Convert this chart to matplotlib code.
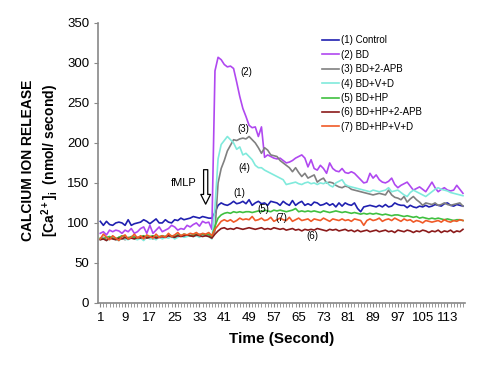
import matplotlib
matplotlib.use("Agg")
import matplotlib.pyplot as plt
import numpy as np

plt.rcParams['font.family'] = ['Liberation Sans', 'DejaVu Sans']
plt.rcParams['mathtext.fontset'] = 'custom'
plt.rcParams['mathtext.rm'] = 'Liberation Sans:bold'
plt.rcParams['mathtext.bf'] = 'Liberation Sans:bold'
plt.rcParams['mathtext.it'] = 'Liberation Sans:bold'
plt.rcParams['mathtext.default'] = 'bf'

# time points (seconds) 1..118
seconds = list(range(1, 119))

control = [102, 97, 102, 98, 97, 100, 101, 100, 97, 104,
           97, 99, 100, 101, 104, 102, 99, 102, 105, 100,
           100, 104, 101, 100, 104, 103, 106, 104, 105, 106,
           108, 107, 106, 108, 107, 106, 106,
           113,
           122, 125, 123, 122, 124, 127, 124, 125, 127, 124,
           129, 122, 125, 127, 124, 125, 122, 127, 126, 125,
           122, 127, 124, 122, 128, 122, 125, 127, 122, 124,
           122, 126, 125, 122, 123, 125, 122, 124, 120, 125,
           121, 125, 123, 122, 125, 118, 114, 120, 121, 122,
           121, 120, 122, 120, 123, 120, 121, 125, 123, 122,
           122, 119, 122, 120, 119, 121, 120, 122, 120, 121,
           123, 122, 121, 124, 125, 122, 121, 123, 122, 121]

bd = [87, 89, 85, 91, 89, 91, 90, 87, 91, 89,
      93, 87, 89, 93, 95, 87, 97, 87, 91, 95,
      89, 91, 93, 97, 95, 91, 93, 92, 97, 95,
      98, 100, 96, 102, 100, 101, 92,
      290,
      307, 304, 298, 295, 296, 293, 276, 258, 243, 233,
      222, 219, 220, 208, 220, 182, 185, 183, 181, 180,
      181, 178, 175, 176, 178, 181, 183, 185, 181, 170,
      179, 168, 166, 172, 168, 162, 175, 168, 165, 164,
      168, 163, 162, 164, 162, 158, 154, 150, 151, 162,
      156, 160, 154, 151, 150, 152, 156, 148, 144, 147,
      149, 151, 146, 141, 143, 145, 142, 139, 145, 151,
      144, 139, 142, 144, 141, 140, 141, 147, 142, 137]

bd_2apb = [80, 82, 79, 81, 83, 80, 82, 81, 79, 82,
           81, 83, 80, 82, 81, 83, 82, 80, 83, 82,
           81, 83, 84, 82, 83, 85, 84, 83, 85, 84,
           85, 84, 86, 85, 84, 85, 82,
           90,
           150, 168, 178, 190, 197, 204, 203, 205, 206, 205,
           208, 204, 200, 194, 187, 194, 191, 185, 184, 183,
           178, 175, 172, 169, 164, 169, 163, 158, 162, 156,
           158, 160, 151, 154, 156, 150, 151, 150, 147, 145,
           144, 146, 145, 142, 141, 140, 139, 138, 137, 136,
           135, 136, 137, 136, 135, 141, 135, 132, 131, 129,
           133, 126, 130, 133, 129, 126, 122, 125, 124, 123,
           125, 122, 123, 125, 123, 122, 123, 124, 125, 121]

bd_vd = [79, 81, 78, 80, 82, 79, 78, 81, 80, 79,
         82, 80, 79, 81, 78, 82, 80, 81, 79, 83,
         80, 82, 81, 83, 80, 82, 84, 82, 83, 85,
         83, 84, 82, 85, 84, 83, 80,
         120,
         180, 198, 203, 208, 204, 200, 192, 195, 185, 187,
         183, 179, 172, 169, 169, 166, 164, 162, 160, 158,
         156, 154, 148, 149, 150, 151, 149, 148, 150, 151,
         149, 150, 148, 150, 149, 151, 147, 145, 150, 152,
         154, 148, 146, 145, 144, 143, 142, 141, 140, 139,
         141, 140, 139, 140, 141, 144, 139, 140, 141, 138,
         135, 133, 138, 141, 139, 137, 135, 133, 136, 139,
         142, 144, 142, 141, 140, 138, 137, 136, 135, 134]

bd_hp = [81, 80, 82, 83, 81, 80, 82, 84, 82, 81,
         83, 82, 81, 83, 84, 82, 83, 84, 82, 83,
         84, 83, 85, 84, 83, 85, 84, 86, 85, 84,
         85, 86, 85, 86, 85, 86, 83,
         96,
         106, 110, 112, 113, 112, 114, 113, 114, 113, 114,
         114, 113, 114, 115, 114, 116, 115, 114, 116, 115,
         116, 115, 114, 115, 116, 118, 114, 115, 114, 115,
         114, 115, 114, 113, 115, 114, 113, 114, 115, 114,
         113, 114, 113, 112, 113, 112, 111, 112, 111, 112,
         111, 112, 111, 110, 111, 110, 109, 110, 110, 109,
         108, 109, 108, 107, 108, 106, 107, 106, 105, 106,
         105, 106, 105, 104, 105, 104, 103, 104, 104, 103]

bd_hp_2apb = [79, 80, 78, 81, 80, 79, 81, 80, 82, 80,
              81, 80, 82, 81, 83, 81, 82, 83, 81, 82,
              83, 82, 84, 83, 82, 84, 83, 84, 85, 84,
              83, 85, 84, 83, 84, 83, 81,
              86,
              90, 93, 94, 92, 93, 92, 94, 93, 92, 93,
              94, 93, 92, 93, 94, 92, 93, 92, 94, 93,
              92, 93, 91, 92, 93, 91, 92, 90, 92, 91,
              92, 91, 93, 92, 91, 90, 92, 91, 92, 90,
              91, 92, 90, 91, 89, 91, 89, 90, 91, 89,
              90, 91, 89, 90, 91, 89, 90, 88, 91, 90,
              89, 91, 90, 88, 90, 89, 91, 90, 88, 90,
              89, 91, 88, 90, 89, 91, 88, 90, 89, 92]

bd_hp_vd = [80, 86, 82, 79, 84, 81, 78, 83, 85, 80,
            82, 86, 81, 84, 80, 85, 83, 81, 86, 82,
            84, 82, 87, 83, 85, 88, 84, 86, 85, 87,
            86, 88, 85, 87, 86, 88, 84,
            92,
            97, 102, 104, 102, 104, 101, 103, 106, 104, 105,
            104, 108, 103, 104, 106, 103, 104, 107, 102, 104,
            106, 104, 103, 107, 102, 104, 106, 103, 104, 105,
            102, 105, 104, 103, 106, 104, 102, 105, 104, 103,
            105, 103, 104, 102, 105, 104, 103, 97, 103, 105,
            103, 104, 106, 102, 104, 105, 103, 106, 104, 102,
            105, 103, 104, 101, 103, 102, 100, 103, 102, 101,
            102, 103, 101, 104, 102, 101, 103, 102, 104, 103]

series = [
    ('(1) Control', control, '#2020b0'),
    ('(2) BD', bd, '#b048f0'),
    ('(3) BD+2-APB', bd_2apb, '#808080'),
    ('(4) BD+V+D', bd_vd, '#80eadc'),
    ('(5) BD+HP', bd_hp, '#40c040'),
    ('(6) BD+HP+2-APB', bd_hp_2apb, '#8b1a1a'),
    ('(7) BD+HP+V+D', bd_hp_vd, '#f05a28'),
]

# curve labels: (text, x, y)
curve_labels = [('(1)', 46, 138), ('(2)', 48, 289), ('(3)', 47, 217),
                ('(4)', 47.5, 169), ('(5)', 53.5, 117), ('(7)', 59.5, 106),
                ('(6)', 69.5, 84)]

fig = plt.figure(figsize=(4.98, 3.69), dpi=100)
ax = fig.add_axes([0.197, 0.179, 0.737, 0.759])

for name, vals, col in series:
    ax.plot(seconds, vals, color=col, lw=1.2, label=name)

for txt, x, y in curve_labels:
    ax.text(x, y, txt, fontsize=7, ha='center', va='center')

# fMLP stimulus marker
ax.text(28, 150, 'fMLP', fontsize=8, ha='center', va='center')
ax.annotate('', xy=(35, 120), xytext=(35, 170),
            arrowprops=dict(arrowstyle='simple,head_width=0.7,head_length=0.7,tail_width=0.3',
                            fc='white', ec='black', lw=0.9))

ax.set_xlim(0.3, 118.7)
ax.set_ylim(0, 350)
ax.set_yticks(range(0, 351, 50))
ax.set_xticks(seconds[::8])
ax.set_xticks(seconds, minor=True)
ax.tick_params(axis='both', labelsize=9.5, direction='out', length=3, color='#888888')
ax.tick_params(axis='x', which='minor', length=3, color='#888888')
for s in ['top', 'right']:
    ax.spines[s].set_visible(False)
for s in ['left', 'bottom']:
    ax.spines[s].set_color('#888888')
    ax.spines[s].set_linewidth(1.2)

ax.set_xlabel('Time (Second)', fontsize=11, fontweight='bold', labelpad=6)
fig.text(0.056, 0.565, 'CALCIUM ION RELEASE', rotation=90, fontsize=10,
         fontweight='bold', ha='center', va='center')
fig.text(0.1, 0.565, r'[Ca$^{2+}$]$_{i}$  (nmol/ second)', rotation=90, fontsize=10,
         fontweight='bold', ha='center', va='center')

ax.legend(loc='upper left', bbox_to_anchor=(0.61, 0.955), frameon=False,
          fontsize=7, handlelength=1.8, handletextpad=0.2, labelspacing=0.45,
          borderpad=0, borderaxespad=0)

fig.savefig('out.png', dpi=100)
